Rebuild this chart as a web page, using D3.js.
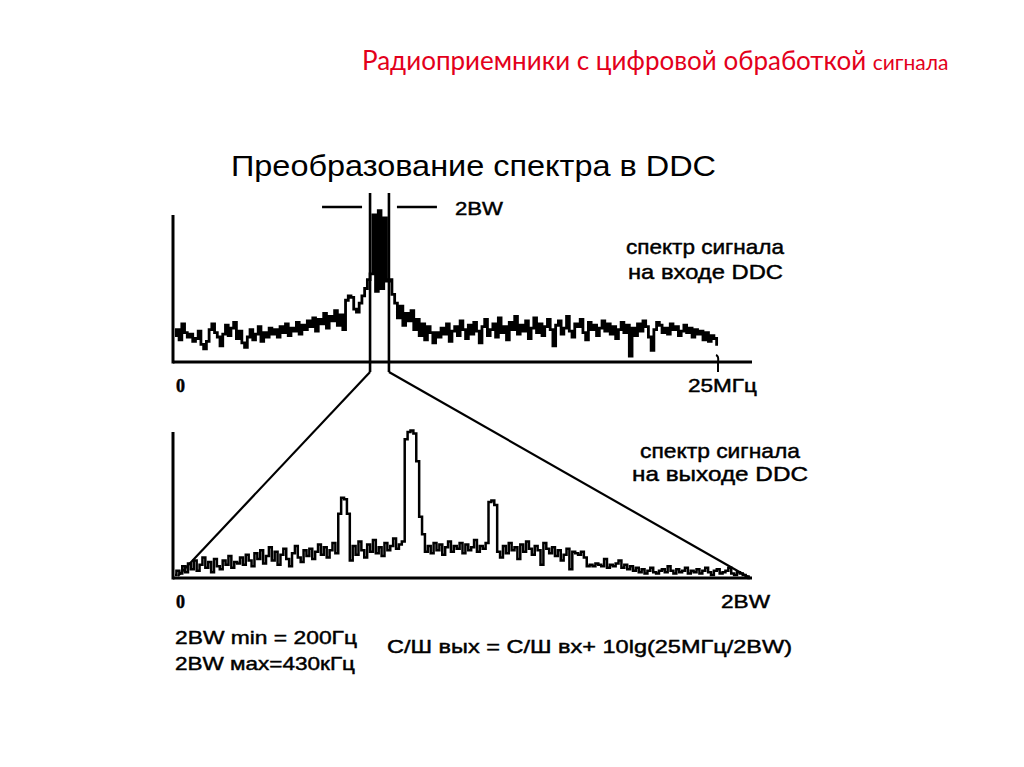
<!DOCTYPE html>
<html><head><meta charset="utf-8">
<script src="https://cdn.jsdelivr.net/npm/d3@7/dist/d3.min.js"></script>
<style>
html,body{margin:0;padding:0;background:#fff;}
svg{display:block;}
.lbl{font-family:"Liberation Sans Narrow","Liberation Sans",Arial,sans-serif;fill:#000;}
</style></head>
<body>
<svg id="c" width="1024" height="767"></svg>
<script>
// ---- data ----
const pageTitle = "Радиоприемники с цифровой обработкой";
const pageTitleSmall = "сигнала";
const chartTitle = "Преобразование спектра в DDC";
const topLabel = ["спектр сигнала", "на входе DDC"];
const bottomLabel = ["спектр сигнала", "на выходе DDC"];
const topTicks = ["0", "25МГц"];
const bottomTicks = ["0", "2BW"];
const notes = ["2BW min = 200Гц", "2BW мах=430кГц"];
const formula = "С/Ш вых = С/Ш вх+ 10lg(25МГц/2BW)";
const bandLabel = "2BW";

const topSpan = 25;           // МГц
const band = [8.98, 9.85];    // МГц, 2BW window edges
// input spectrum levels, 200 uniform bins over 0..25 MHz
const topLevels = [
  18,22,15,26,20,17,19,14,16,21,12,9,14,22,26,20,17,11,19,25,18,23,27,16,21,13,10,17,22,15,19,24,14,20,17,23,
  19,22,17,24,20,26,18,23,21,27,19,25,22,28,24,30,21,29,26,33,23,31,28,35,25,32,22,
  42,45,44,36,34,40,45,50,56,
  60,100,48,103,50,98,55,
  56,46,40,30,38,25,33,28,35,22,29,18,26,15,24,20,13,
  20,17,23,19,26,14,21,24,18,28,
  22,16,25,19,27,21,13,24,29,18,
  22,26,17,30,20,24,15,27,22,31,
  19,25,21,28,16,23,30,20,26,18,
  24,29,22,11,25,28,19,23,31,21,
  17,26,24,29,20,15,27,22,25,18,
  23,28,21,26,19,24,16,22,27,20,
  25,4,23,18,26,21,28,24,17,8,
  22,27,25,20,23,19,26,22,24,18,
  21,25,20,23,17,22,19,21,15,20,
  14,18,16,12
];
// output spectrum levels, 200 uniform bins over 0..2BW
const bottomLevels = [
  2,5,3,8,4,10,6,12,5,9,14,7,11,4,13,8,6,12,9,15,7,11,10,
  14,9,16,12,8,17,13,19,10,15,21,12,18,9,16,20,13,8,17,22,14,11,19,15,20,13,18,23,16,21,14,19,24,17,
  44,55,54,44,
  12,22,16,25,19,14,23,18,26,17,21,15,24,19,22,27,20,23,25,
  95,100,101,99,80,42,
  30,18,22,17,24,19,23,16,21,25,18,22,20,24,17,23,19,21,26,18,22,20,24,
  52,53,50,
  18,14,22,17,24,19,21,13,23,18,25,20,16,22,19,9,24,20,17,21,15,19,12,16,
  20,6,18,17,16,18,14,8,9,8,10,9,8,13,7,9,8,10,12,7,9,6,8,5,7,
  4,6,3,5,7,4,3,5,6,4,8,5,3,6,4,5,7,3,5,4,6,3,5,7,4,2,5,6,3,4,5,7,3,2,4,3,2,1,0
];

// ---- drawing ----
const svg = d3.select("#c");

// red slide title
const t = svg.append("text").attr("x", 362).attr("y", 70)
  .attr("fill", "#e3001b").style("font-family", "Lato, 'Open Sans', sans-serif");
t.append("tspan").attr("font-size", 26).text(pageTitle + " ");
t.append("tspan").attr("font-size", 21).text(pageTitleSmall);

svg.append("text").attr("class", "lbl").attr("x", 231).attr("y", 176)
  .attr("font-size", 29).style("font-family", "'Liberation Sans',Arial,sans-serif")
  .attr("textLength", 485).attr("lengthAdjust", "spacingAndGlyphs").text(chartTitle);

// scales
const xTop = d3.scaleLinear().domain([0, topSpan]).range([175, 718]);
const yTop = d3.scaleLinear().domain([0, 100]).range([362, 215]);
const xBot = d3.scaleLinear().domain([0, 1]).range([175, 750]);
const yBot = d3.scaleLinear().domain([0, 100]).range([578, 432]);

const topData = topLevels.map((v, i) => [i * topSpan / (topLevels.length - 1), v]);
const botData = bottomLevels.map((v, i) => [i / (bottomLevels.length - 1), v]);

const ax = svg.append("g").attr("stroke", "#000").attr("stroke-width", 3).attr("fill", "none");
// top axes
ax.append("line").attr("x1", 173).attr("x2", 173).attr("y1", yTop(100)).attr("y2", yTop(0) + 1.5);
ax.append("line").attr("x1", 173).attr("x2", 752).attr("y1", yTop(0)).attr("y2", yTop(0));
ax.append("path").attr("stroke-width", 2)
  .attr("d", `M${xTop(topSpan)-2},${yTop(0)-7} Q${xTop(topSpan)+1},${yTop(0)-6} ${xTop(topSpan)},${yTop(0)} L${xTop(topSpan)},${yTop(0)+10}`);
// bottom axes
ax.append("line").attr("x1", 173).attr("x2", 173).attr("y1", yBot(100)).attr("y2", yBot(0) + 1.5);
ax.append("line").attr("x1", 173).attr("x2", 752).attr("y1", yBot(0)).attr("y2", yBot(0));

// spectra
const lineTop = d3.line().x(d => xTop(d[0])).y(d => yTop(d[1])).curve(d3.curveStep);
const lineBot = d3.line().x(d => xBot(d[0])).y(d => yBot(d[1])).curve(d3.curveStep);
svg.append("path").datum(topData).attr("d", lineTop)
  .attr("fill", "none").attr("stroke", "#000").attr("stroke-width", 2.8).attr("stroke-linejoin", "miter");
svg.append("path").datum(botData).attr("d", lineBot)
  .attr("fill", "none").attr("stroke", "#000").attr("stroke-width", 2.5).attr("stroke-linejoin", "miter");

// 2BW window lines
const xLo = xTop(band[0]), xHi = xTop(band[1]);
const g = svg.append("g").attr("stroke", "#000").attr("fill", "none");
g.append("line").attr("stroke-width", 2.6).attr("x1", xLo).attr("x2", xLo).attr("y1", 193).attr("y2", 372);
g.append("line").attr("stroke-width", 2.6).attr("x1", xHi).attr("x2", xHi).attr("y1", 193).attr("y2", 372);
g.append("line").attr("stroke-width", 2.6).attr("x1", xLo - 48).attr("x2", xLo - 8).attr("y1", 207).attr("y2", 207);
g.append("line").attr("stroke-width", 2.6).attr("x1", xHi + 8).attr("x2", xHi + 48).attr("y1", 207).attr("y2", 207);
// zoom triangle
g.append("line").attr("stroke-width", 2.2).attr("x1", xLo).attr("y1", 372).attr("x2", xBot(0) + 3).attr("y2", yBot(0) - 2);
g.append("line").attr("stroke-width", 2.2).attr("x1", xHi).attr("y1", 372).attr("x2", xBot(1)).attr("y2", yBot(0));

// labels
function lbl(x, y, s, size, w, fam, weight) {
  const e = svg.append("text").attr("class", "lbl").attr("x", x).attr("y", y)
    .attr("font-size", size).attr("stroke", "#000").attr("stroke-width", 0.45).text(s);
  if (w) e.attr("textLength", w).attr("lengthAdjust", "spacingAndGlyphs");
  if (fam) e.style("font-family", fam);
  if (weight) e.attr("font-weight", weight);
  return e;
}
lbl(455, 215, bandLabel, 18, 48);
lbl(626, 254, topLabel[0], 21, 158);
lbl(628, 279, topLabel[1], 21, 155);
lbl(640, 458, bottomLabel[0], 21, 160);
lbl(632, 481, bottomLabel[1], 21, 176);
lbl(176, 392, topTicks[0], 18, null, "'Liberation Serif',serif", "bold");
lbl(688, 392, topTicks[1], 18, 69);
lbl(176, 608, bottomTicks[0], 18, null, "'Liberation Serif',serif", "bold");
lbl(721, 608, bottomTicks[1], 18, 49);
lbl(175, 644, notes[0], 19, 182);
lbl(175, 670, notes[1], 19, 180);
lbl(387, 653, formula, 19, 405);
</script>
</body></html>
